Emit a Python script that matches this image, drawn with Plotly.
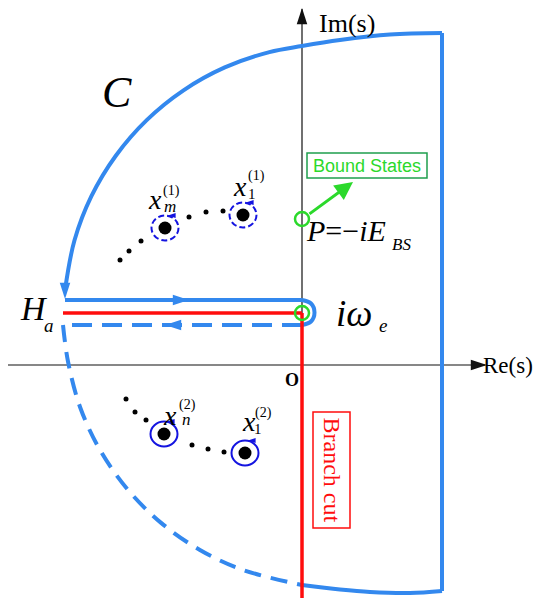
import plotly.graph_objects as go

# ---------------- data (complex-plane diagram, origin at O) ----------------
# Outer contour C
bottom_arc_x = [0, 38, 68, 108, 140]
bottom_arc_y = [-220, -224.5, -227, -228, -226]
right_side_x = [140, 140]
right_side_y = [-226, 332]
top_arc_x = [140, 88, 38, 0, -32.6, -77.2, -118.5, -155.3, -186.2, -210.6, -227.5, -236.7]
top_arc_y = [332, 330.5, 325, 319, 312.9, 297.6, 274.7, 244.9, 209.3, 168.8, 124.7, 76.9]
upper_line_x = [-237, 0]
upper_line_y = [65, 65]
keyhole_x = [0, 9, 12.5, 9, 0]
keyhole_y = [65, 61.5, 52.5, 43.5, 40]
lower_line_x = [0, -239]
lower_line_y = [40, 40]
dashed_arc_x = [-239, -233.9, -221.7, -201.7, -174.6, -141.2, -102.5, -59.7, 0]
dashed_arc_y = [40, 3, -42.7, -85.5, -124.2, -157.6, -184.7, -204.7, -220]

# Branch cut
cut_h_x = [-239, 0]
cut_h_y = [52, 52]
cut_v_x = [0, 0]
cut_v_y = [52, -233]

# Axes
re_axis_x = [-294, 183]
re_axis_y = [0, 0]
im_axis_x = [0, 0]
im_axis_y = [-233, 356]

# Contour direction arrows (tip x, tip y, angle)
arrow_x = [-237, -113, -137]
arrow_y = [66, 65, 40]
arrow_ang = [180, 90, 270]

# Poles
poles_up_x = [-137, -59]
poles_up_y = [137, 150]
poles_dn_x = [-138, -57]
poles_dn_y = [-69, -88]
dots_up_x = [-182, -173, -161, -113, -96, -79]
dots_up_y = [105, 114, 124, 148, 153, 154]
dots_dn_x = [-176, -167, -156, -110, -94, -78]
dots_dn_y = [-34, -47, -55, -80, -84, -87]

# Green points (bound state P and branch point i*omega_e)
green_x = [0, 0]
green_y = [146, 52]

BLUE = "#3388ee"
DBLUE = "#1414e0"
RED = "#ff0d0d"
GREEN = "#2bd92b"
GREEN_BOX = "#1f9e4e"
SERIF = "Liberation Serif"

fig = go.Figure()

def line(x, y, color, width, dash="solid", shape="linear"):
    fig.add_trace(go.Scatter(x=x, y=y, mode="lines", hoverinfo="skip", cliponaxis=False,
                             line=dict(color=color, width=width, dash=dash, shape=shape, smoothing=1)))

# axes
line(re_axis_x, re_axis_y, "#111111", 1.2)
line(im_axis_x, im_axis_y, "#111111", 1.2)
fig.add_trace(go.Scatter(x=[re_axis_x[1] + 2, im_axis_x[1]], y=[re_axis_y[1], im_axis_y[1] + 1],
                         mode="markers", hoverinfo="skip", cliponaxis=False,
                         marker=dict(symbol="arrow", size=17, angle=[90, 0], color="#111111",
                                     line=dict(width=0))))

# contour
line(bottom_arc_x, bottom_arc_y, BLUE, 4, shape="spline")
line(right_side_x, right_side_y, BLUE, 4)
line(top_arc_x, top_arc_y, BLUE, 4, shape="spline")
line(upper_line_x, upper_line_y, BLUE, 4)
line(keyhole_x, keyhole_y, BLUE, 4, shape="spline")
line(lower_line_x, lower_line_y, BLUE, 4, dash="20px,10px")
line(dashed_arc_x, dashed_arc_y, BLUE, 4, dash="17px,10px", shape="spline")

# branch cut
line(cut_h_x, cut_h_y, RED, 3.5)
line(cut_v_x, cut_v_y, RED, 3.5)

# contour arrows
fig.add_trace(go.Scatter(x=arrow_x, y=arrow_y, mode="markers", hoverinfo="skip",
                         marker=dict(symbol="arrow", size=17, angle=arrow_ang, color=BLUE,
                                     line=dict(width=0))))

# poles and dots
fig.add_trace(go.Scatter(x=dots_up_x + dots_dn_x, y=dots_up_y + dots_dn_y, mode="markers",
                         hoverinfo="skip", marker=dict(size=5, color="black")))
fig.add_trace(go.Scatter(x=poles_up_x + poles_dn_x, y=poles_up_y + poles_dn_y, mode="markers",
                         hoverinfo="skip", marker=dict(size=13, color="black")))

# circles around poles
RX, RY = 13.5, 12.5
for i, (cx, cy) in enumerate(zip(poles_up_x + poles_dn_x, poles_up_y + poles_dn_y)):
    fig.add_shape(type="circle", xref="x", yref="y", x0=cx - RX, x1=cx + RX, y0=cy - RY, y1=cy + RY,
                  line=dict(color=DBLUE, width=2, dash="6px,3px" if i < 2 else "solid"))
fig.add_trace(go.Scatter(x=[c + 3 for c in poles_up_x + poles_dn_x],
                         y=[c + RY for c in poles_up_y + poles_dn_y], mode="markers",
                         hoverinfo="skip",
                         marker=dict(symbol="arrow", size=8, angle=270, color=DBLUE, line=dict(width=0))))

# green circles
for gx, gy in zip(green_x, green_y):
    fig.add_shape(type="circle", xref="x", yref="y", x0=gx - 7, x1=gx + 7, y0=gy - 7, y1=gy + 7,
                  line=dict(color=GREEN, width=2.5))

# green pointer
fig.add_annotation(x=51, y=183, ax=6, ay=150, xref="x", yref="y", axref="x", ayref="y",
                   text="", showarrow=True, arrowhead=2, arrowsize=1.2, arrowwidth=3,
                   arrowcolor=GREEN, standoff=0)
fig.add_shape(type="rect", xref="x", yref="y", x0=5, x1=125, y0=187, y1=212,
              line=dict(color=GREEN_BOX, width=1.5))
# branch cut box
fig.add_shape(type="rect", xref="x", yref="y", x0=11, x1=48, y0=-163, y1=-47,
              line=dict(color=RED, width=1.5))

def text(x, y, s, size, color="black", family=SERIF, angle=0, anchor="center"):
    fig.add_annotation(x=x, y=y, xref="x", yref="y", text=s, showarrow=False,
                       xanchor=anchor, yanchor="middle", textangle=angle, borderpad=0,
                       font=dict(family=family, size=size, color=color))

text(65, 199.5, "Bound States", 18, GREEN, "Arial")
text(29.5, -105, "Branch cut", 24, RED, angle=90)
text(-185, 273, "<i>C</i>", 44)
text(-268, 57, "<i>H</i>", 34)
text(-253, 40, "<i>a</i>", 19)
text(52, 52, "<i>iω</i>", 37)
text(81, 40, "<i>e</i>", 19)
text(44, 135, "<i>P</i>=−<i>iE</i>", 30)
text(99, 121, "<i>BS</i>", 17)
text(45, 342, "Im(s)", 26)
text(180, 0, "Re(s)", 23, anchor="left")
text(-10, -15, "<b>O</b>", 18)

# pole labels
text(-147, 166, "<i>x</i>", 28)
text(-132, 159, "<i>m</i>", 17)
text(-131, 174, "(1)", 14)
text(-62, 179, "<i>x</i>", 28)
text(-50, 171, "1", 15)
text(-46, 189, "(1)", 14)
text(-132, -50, "<i>x</i>", 28)
text(-116, -54, "<i>n</i>", 17)
text(-115, -40, "(2)", 14)
text(-53, -56, "<i>x</i>", 28)
text(-44, -64, "1", 15)
text(-39, -48, "(2)", 14)

# the page body has an 8px margin: the plot area is placed so that O sits where it does in the picture
fig.update_layout(width=536, height=590, margin=dict(l=0, r=0, t=0, b=0),
                  paper_bgcolor="white", plot_bgcolor="white", showlegend=False,
                  xaxis=dict(range=[-294, 242], visible=False, fixedrange=True),
                  yaxis=dict(range=[-233, 357], visible=False, fixedrange=True))

fig.write_html("out.html")
